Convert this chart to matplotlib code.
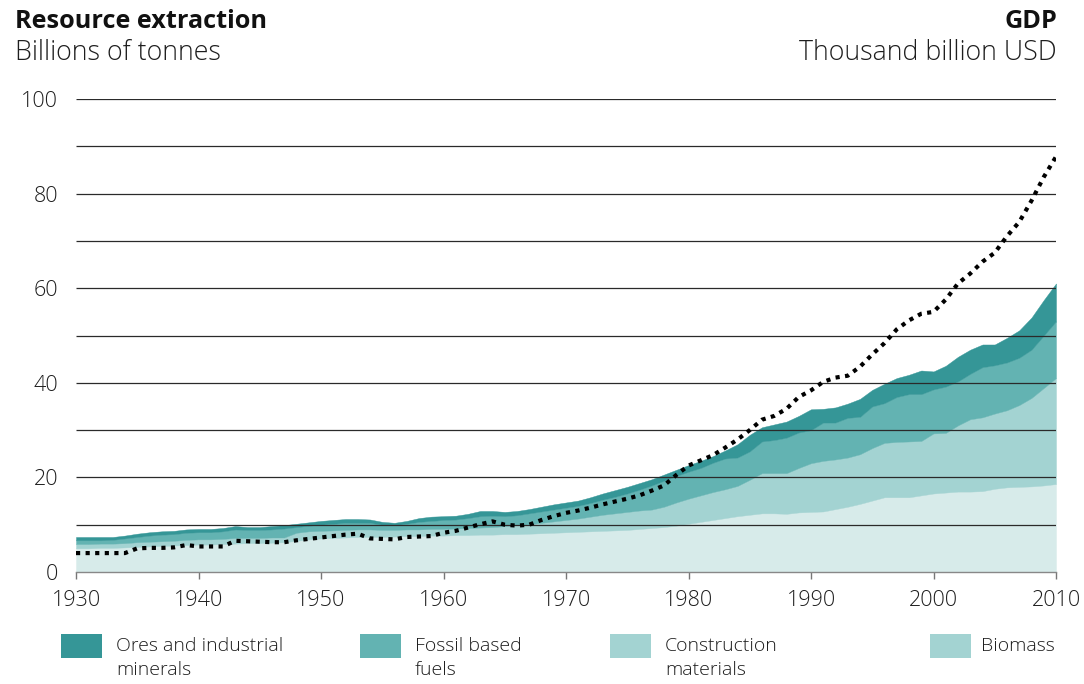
import matplotlib
matplotlib.use("Agg")
import matplotlib.pyplot as plt
from matplotlib.patches import Rectangle

plt.rcParams["font.family"] = ["Open Sans", "DejaVu Sans"]

years = list(range(1930, 2011))

# billions of tonnes per year
biomass = [
    5.0, 5.0, 5.1, 5.1, 5.2, 5.3, 5.4, 5.5, 5.6, 5.7,
    5.8, 5.8, 5.9, 6.0, 6.1, 6.1, 6.2, 6.3, 6.6, 6.9,
    7.1, 7.2, 7.3, 7.4, 7.4, 7.4, 7.5, 7.6, 7.6, 7.7,
    7.7, 7.8, 7.8, 7.9, 7.9, 8.0, 8.0, 8.1, 8.2, 8.3,
    8.4, 8.5, 8.6, 8.7, 8.8, 8.9, 9.1, 9.3, 9.5, 9.8,
    10.2, 10.6, 11.0, 11.4, 11.8, 12.1, 12.4, 12.4, 12.3, 12.6,
    12.7, 12.8, 13.3, 13.8, 14.4, 15.1, 15.8, 15.8, 15.8, 16.2,
    16.6, 16.8, 17.0, 17.0, 17.1, 17.6, 17.9, 18.0, 18.1, 18.3,
    18.6,
]
construction = [
    0.9, 0.9, 0.9, 0.9, 0.9, 1.0, 1.0, 1.0, 1.0, 1.1,
    1.1, 1.1, 1.1, 1.2, 1.1, 1.1, 1.1, 1.0, 1.7, 1.7,
    1.6, 1.6, 1.6, 1.6, 1.6, 1.5, 1.4, 1.4, 1.4, 1.4,
    1.4, 1.4, 1.5, 1.5, 1.6, 1.7, 1.9, 2.0, 2.2, 2.4,
    2.6, 2.8, 3.1, 3.4, 3.6, 3.8, 3.9, 3.9, 4.3, 4.9,
    5.3, 5.6, 5.9, 6.1, 6.4, 7.4, 8.5, 8.5, 8.6, 9.4,
    10.3, 10.7, 10.5, 10.4, 10.5, 11.1, 11.5, 11.7, 11.8, 11.5,
    12.7, 12.6, 14.0, 15.3, 15.6, 15.9, 16.3, 17.3, 18.7, 20.6,
    22.4,
]
fossil = [
    0.8, 0.8, 0.7, 0.8, 1.0, 1.1, 1.3, 1.4, 1.4, 1.5,
    1.5, 1.5, 1.6, 1.8, 1.7, 1.7, 1.7, 1.9, 1.2, 1.2,
    1.3, 1.4, 1.5, 1.4, 1.4, 1.1, 1.0, 1.2, 1.6, 1.7,
    1.9, 1.9, 2.1, 2.4, 2.4, 2.1, 2.1, 2.3, 2.4, 2.5,
    2.6, 2.7, 2.9, 3.2, 3.5, 3.9, 4.4, 5.1, 5.5, 5.6,
    5.7, 5.8, 6.2, 6.5, 6.0, 6.0, 6.7, 7.0, 7.5, 7.5,
    7.0, 8.1, 7.8, 8.4, 7.9, 8.8, 8.4, 9.5, 10.0, 9.9,
    9.3, 9.8, 9.3, 9.6, 10.6, 10.2, 10.1, 10.0, 10.2, 11.1,
    12.0,
]
ores = [
    0.7, 0.7, 0.7, 0.6, 0.6, 0.7, 0.7, 0.7, 0.7, 0.7,
    0.7, 0.7, 0.7, 0.7, 0.6, 0.6, 0.7, 0.7, 0.7, 0.7,
    0.8, 0.8, 0.8, 0.8, 0.7, 0.6, 0.5, 0.6, 0.8, 0.9,
    0.8, 0.8, 0.9, 1.1, 1.0, 0.9, 0.9, 0.9, 1.0, 1.1,
    1.1, 1.1, 1.2, 1.3, 1.4, 1.4, 1.4, 1.3, 1.3, 1.3,
    1.4, 1.5, 1.4, 1.7, 2.8, 3.5, 3.0, 3.3, 3.4, 3.5,
    4.4, 2.9, 3.2, 3.0, 3.8, 3.5, 4.1, 4.0, 4.1, 5.0,
    3.8, 4.4, 5.2, 5.1, 4.8, 4.4, 5.2, 5.8, 6.8, 7.5,
    8.0,
]
# thousand billion USD
gdp = [
    4.0, 4.0, 4.0, 4.0, 4.0, 5.0, 5.1, 5.1, 5.2, 5.7,
    5.4, 5.4, 5.4, 6.6, 6.5, 6.4, 6.3, 6.3, 6.7, 7.0,
    7.3, 7.6, 7.9, 8.1, 7.1, 7.0, 6.9, 7.4, 7.5, 7.6,
    8.3, 8.7, 9.4, 10.1, 10.7, 10.0, 9.8, 10.0, 11.0, 11.8,
    12.5, 13.0, 13.6, 14.3, 14.9, 15.5, 16.2, 17.2, 18.3, 20.5,
    22.5, 23.6, 24.7, 26.3, 28.0, 30.0, 32.2, 33.0, 34.5, 37.0,
    38.4, 40.2, 41.1, 41.5, 43.4, 46.0, 48.4, 51.3, 53.2, 54.6,
    55.0, 57.6, 61.0, 63.1, 65.6, 67.5, 71.0, 74.0, 78.5, 83.5,
    87.8,
]

layer_colors = ["#d7ebea", "#a3d3d2", "#63b3b2", "#359697"]

legend_labels = ["Ores and industrial\nminerals", "Fossil based\nfuels",
                 "Construction\nmaterials", "Biomass"]
legend_colors = ["#359697", "#63b3b2", "#a3d3d2", "#a3d3d2"]
legend_x = [61, 360, 610, 930]

y_ticks = [0, 20, 40, 60, 80, 100]
grid_levels = list(range(10, 101, 10))
x_ticks = list(range(1930, 2011, 10))

W, H = 1084, 684
TEXT = "#1e1e1e"
fig = plt.figure(figsize=(W / 100, H / 100), dpi=100)
ax = fig.add_axes([76 / W, 1 - 572 / H, 980 / W, 473 / H])

ax.stackplot(years, biomass, construction, fossil, ores, colors=layer_colors,
             edgecolor="face", linewidth=0.3, zorder=1)
ax.hlines(grid_levels, years[0], years[-1], color="#2a2a2a", linewidth=0.9, zorder=2)
ax.plot(years, gdp, color="black", linewidth=3.0, linestyle=(0, (1, 1.3)), zorder=3)

ax.set_xlim(1930, 2010)
ax.set_ylim(0, 100)
ax.set_xticks(x_ticks)
ax.set_yticks(y_ticks)
ax.tick_params(axis="x", length=5, width=1, color="#777777", pad=8,
               labelsize=15.5, labelcolor=TEXT)
ax.tick_params(axis="y", length=0, pad=13, labelsize=15.5, labelcolor=TEXT)
for lab in ax.get_xticklabels() + ax.get_yticklabels():
    lab.set_fontweight("light")
for side in ["top", "right", "left"]:
    ax.spines[side].set_visible(False)
ax.spines["bottom"].set_color("#888888")
ax.spines["bottom"].set_linewidth(1)
ax.spines["bottom"].set_zorder(4)

fig.text(15 / W, 1 - 21 / H, "Resource extraction", fontsize=18.2, fontweight="bold",
         color="#111111", va="center", ha="left")
fig.text(15 / W, 1 - 53 / H, "Billions of tonnes", fontsize=19.3, fontweight="light",
         color=TEXT, va="center", ha="left")
fig.text(1057 / W, 1 - 21 / H, "GDP", fontsize=18.2, fontweight="bold",
         color="#111111", va="center", ha="right")
fig.text(1057 / W, 1 - 53 / H, "Thousand billion USD", fontsize=19.3, fontweight="light",
         color=TEXT, va="center", ha="right")

for label, color, x in zip(legend_labels, legend_colors, legend_x):
    fig.patches.append(Rectangle((x / W, 1 - 658 / H), 41 / W, 24 / H,
                                 transform=fig.transFigure, facecolor=color,
                                 edgecolor="none"))
    tx = x + (55 if x < 900 else 51)
    for i, line in enumerate(label.split("\n")):
        fig.text(tx / W, 1 - (646 + 24 * i) / H, line, fontsize=14,
                 fontweight="light", color=TEXT, va="center", ha="left")

fig.savefig("out.png", dpi=100)
